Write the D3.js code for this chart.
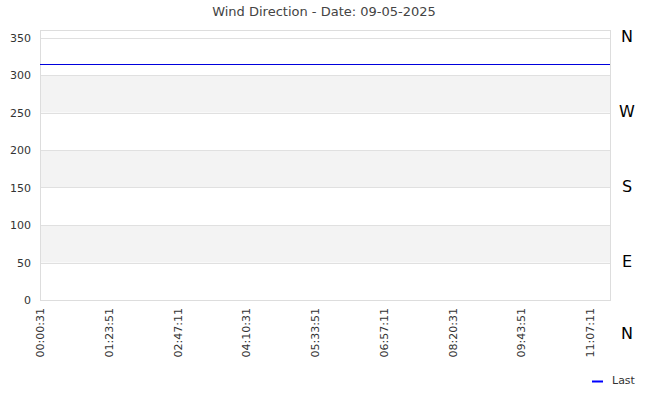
<!DOCTYPE html>
<html><head><meta charset="utf-8">
<script src="https://cdn.jsdelivr.net/npm/d3@7"></script>
<style>body{margin:0;background:#fff;font-family:"DejaVu Sans",sans-serif;}</style>
</head><body><svg id="c" width="650" height="400"></svg>
<script>
const title = "Wind Direction - Date: 09-05-2025";
const times = ["00:00:31","02:00:31","04:00:31","06:00:31","08:00:31","10:00:31","11:31:25"];
const values = [315,315,315,315,315,315,315];
const xTickLabels = ["00:00:31","01:23:51","02:47:11","04:10:31","05:33:51","06:57:11","08:20:31","09:43:51","11:07:11"];
const yTicks = [0,50,100,150,200,250,300,350];
const bands = [[50,100],[150,200],[250,300]];
const compass = ["N","W","S","E","N"];
const compassValues = [352,252,152,52,-44];
const seriesName = "Last";

const toSec = s => { const p = s.split(":").map(Number); return p[0]*3600+p[1]*60+p[2]; };
const svg = d3.select("#c");
const m = {l:40, r:610, t:30, b:300};
const x = d3.scaleLinear().domain([toSec(times[0]), toSec(times[times.length-1])]).range([m.l, m.r]);
const y = d3.scaleLinear().domain([0,360]).range([m.b, m.t]);

svg.append("text").attr("x",324).attr("y",16).attr("text-anchor","middle")
  .attr("font-size",13).attr("fill","#444").text(title);

svg.selectAll("rect.band").data(bands).join("rect").attr("class","band")
  .attr("x",m.l).attr("width",m.r-m.l).attr("y",d=>y(d[1])).attr("height",d=>y(d[0])-y(d[1]))
  .attr("fill","#f3f3f3");

svg.selectAll("line.grid").data(yTicks.filter(d=>d>0)).join("line").attr("class","grid")
  .attr("x1",m.l).attr("x2",m.r).attr("y1",d=>Math.round(y(d))+0.5).attr("y2",d=>Math.round(y(d))+0.5)
  .attr("stroke","#e0e0e0");

svg.append("rect").attr("x",m.l+0.5).attr("y",m.t+0.5).attr("width",m.r-m.l).attr("height",m.b-m.t)
  .attr("fill","none").attr("stroke","#dddddd");

const yAxis = svg.append("g").attr("transform",`translate(${m.l},0)`)
  .call(d3.axisLeft(y).tickValues(yTicks).tickSize(0).tickPadding(9));
yAxis.select(".domain").remove();
yAxis.selectAll("text").attr("font-size",11).attr("fill","#333").attr("font-family","DejaVu Sans");

const xt = xTickLabels.map(toSec);
const xAxis = svg.append("g").attr("transform",`translate(0,${m.b})`)
  .call(d3.axisBottom(x).tickValues(xt).tickFormat((d,i)=>xTickLabels[i]).tickSize(0));
xAxis.select(".domain").remove();
xAxis.selectAll("text").attr("font-size",11).attr("fill","#333").attr("font-family","DejaVu Sans")
  .attr("text-anchor","end").attr("transform","rotate(-90)").attr("dx","-8").attr("dy","0.32em").attr("y",0).attr("x",0);

const line = d3.line().x((d,i)=>x(toSec(times[i]))).y(d=>Math.round(y(d))+0.5);
svg.append("path").datum(values).attr("d",line).attr("fill","none").attr("stroke","#0000dd").attr("stroke-width",1);

svg.selectAll("text.compass").data(compass).join("text").attr("class","compass")
  .attr("x",627).attr("y",(d,i)=>y(compassValues[i])).attr("dy","0.35em").attr("text-anchor","middle")
  .attr("font-size",16).attr("fill","#000").text(d=>d);

svg.append("line").attr("x1",592).attr("x2",603).attr("y1",381.5).attr("y2",381.5).attr("stroke","#0000ff").attr("stroke-width",2);
svg.append("text").attr("x",612).attr("y",384).attr("font-size",11).attr("fill","#333").text(seriesName);
</script></body></html>
